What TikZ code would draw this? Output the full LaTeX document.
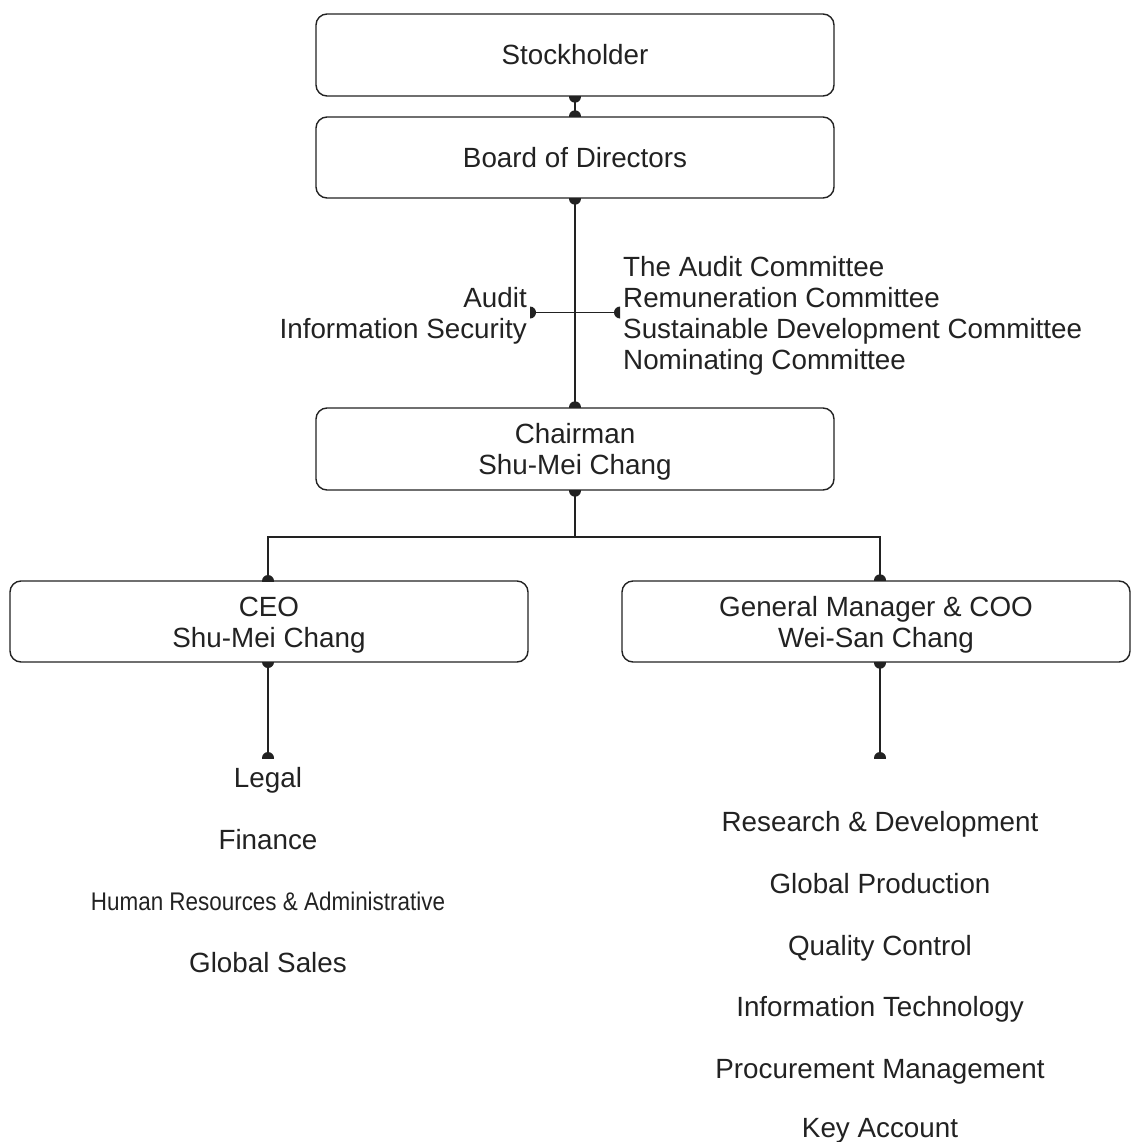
\documentclass[tikz,border=0pt]{standalone}
\usepackage{fontspec}
\setmainfont{Liberation Sans}
\usepackage{graphicx}
\definecolor{ink}{HTML}{222222}
\newcommand\bigfnt{\fontsize{27.8pt}{31pt}\selectfont}
\newcommand\capS[1]{\begin{scope}\clip ([shift={(-8,0)}]#1) rectangle ([shift={(8,8)}]#1); \fill[ink] (#1) circle[radius=6pt]; \end{scope}}
\newcommand\capN[1]{\begin{scope}\clip ([shift={(-8,-8)}]#1) rectangle ([shift={(8,0)}]#1); \fill[ink] (#1) circle[radius=6pt]; \end{scope}}
\newcommand\capE[1]{\begin{scope}\clip ([shift={(0,-8)}]#1) rectangle ([shift={(8,8)}]#1); \fill[ink] (#1) circle[radius=6pt]; \end{scope}}
\newcommand\capW[1]{\begin{scope}\clip ([shift={(-8,-8)}]#1) rectangle ([shift={(0,8)}]#1); \fill[ink] (#1) circle[radius=6pt]; \end{scope}}
\begin{document}
\begin{tikzpicture}[x=1pt,y=-1pt,
  box/.style={draw=ink, line width=1.4pt, rounded corners=11pt, fill=white, inner sep=0pt,
    align=center, text=ink, font=\bigfnt, text height=20pt, text depth=0pt},
  two/.style={text height=51pt, text depth=0pt},
  four/.style={text height=113pt, text depth=0pt},
  lbl/.style={inner sep=0pt, text=ink, font=\bigfnt, text height=20pt, text depth=0pt},
  link/.style={draw=ink, line width=1.4pt}]
\useasboundingbox (0,0) rectangle (1131,1142);

% boxes
\node[box, minimum width=518pt, minimum height=82pt] (stock) at (575,55) {Stockholder};
\node[box, minimum width=518pt, minimum height=81pt] (board) at (575,157.5) {Board of Directors};
\node[box, two, minimum width=518pt, minimum height=82pt] (chair) at (575,449) {Chairman\\Shu-Mei Chang};
\node[box, two, minimum width=518pt, minimum height=81pt] (ceo) at (269,621.5) {CEO\\Shu-Mei Chang};
\node[box, two, minimum width=508pt, minimum height=81pt] (gm) at (876,621.5) {General Manager \& COO\\Wei-San Chang};

% side labels
\node[lbl, two, align=right, anchor=east] (audit) at (527,312.5) {Audit\\Information Security};
\node[lbl, four, align=left, anchor=west] (cmte) at (623,312.5) {The Audit Committee\\Remuneration Committee\\Sustainable Development Committee\\Nominating Committee};

% left list
\node[lbl] (legal) at (268,777) {Legal};
\node[lbl] (fin) at (268,839) {Finance};
\node[lbl, font=\fontsize{25.5pt}{30pt}\selectfont, text height=18.3pt] (hr) at (268,901) {\scalebox{0.88}[1]{Human Resources \& Administrative}};
\node[lbl] (sales) at (268,962) {Global Sales};

% right list
\node[lbl] (rd) at (880,821) {Research \& Development};
\node[lbl] (gp) at (880,883) {Global Production};
\node[lbl] (qc) at (880,945) {Quality Control};
\node[lbl] (itn) at (880,1006) {Information Technology};
\node[lbl] (pm) at (880,1068) {Procurement Management};
\node[lbl] (ka) at (880,1127) {Key Account};

% coordinates
\coordinate (bl) at (530,312.5);
\coordinate (br) at (620,312.5);
\coordinate (j) at (575,537);
\coordinate (legtop) at (268,758);
\coordinate (gmtop) at ([xshift=4pt]gm.north);
\coordinate (gmbot) at ([xshift=4pt]gm.south);
\coordinate (rdtop) at (880,758);
\coordinate (ceotop) at (268,581);
\coordinate (ceobot) at (268,662);

% connectors
\draw[link] (stock.south) -- (board.north);
\capS{stock.south}\capN{board.north}

\draw[link] (board.south) -- (chair.north);
\capS{board.south}\capN{chair.north}

\draw[link] (bl) -- (br);
\capE{bl}\capW{br}

\draw[link] (chair.south) -- (j);
\draw[link] (ceotop) |- (j) -| (gmtop);
\capS{chair.south}\capN{ceotop}\capN{gmtop}

\draw[link] (ceobot) -- (legtop);
\capS{ceobot}\capN{legtop}

\draw[link] (gmbot) -- (rdtop);
\capS{gmbot}\capN{rdtop}
\end{tikzpicture}
\end{document}
